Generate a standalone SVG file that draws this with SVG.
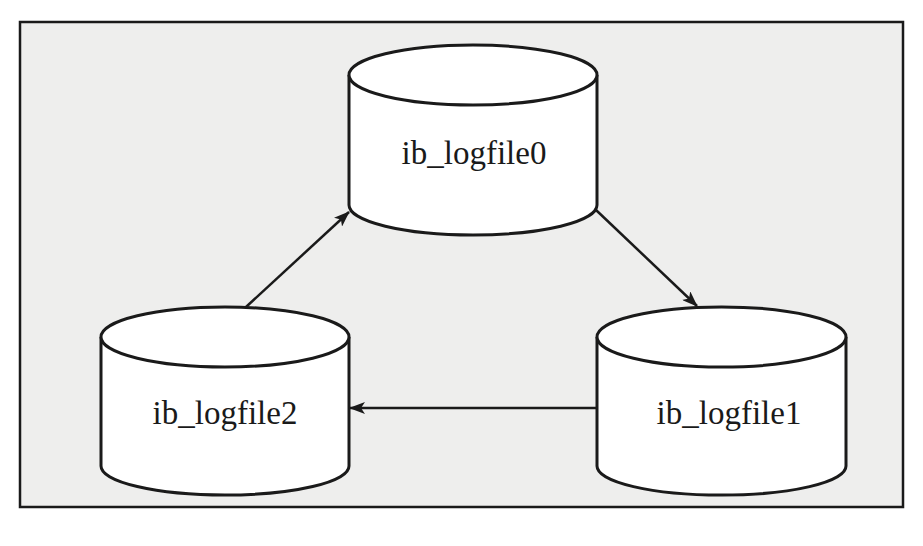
<svg xmlns="http://www.w3.org/2000/svg" width="923" height="546" viewBox="0 0 923 546">
<style>
.cyl{fill:#fff;stroke:#1a1a1a;stroke-width:3}
.lbl{font-family:"Liberation Serif","Times New Roman",serif;font-size:33px;fill:#1a1a1a;text-anchor:middle}
.edge{stroke:#1a1a1a;stroke-width:2.5;fill:none;marker-end:url(#ah)}
</style>
<defs>
<marker id="ah" viewBox="0 0 16 12" refX="15" refY="6" markerWidth="16" markerHeight="12" markerUnits="userSpaceOnUse" orient="auto">
<path d="M0,0 L16,6 L0,12 L4,6 Z" fill="#1a1a1a"/>
</marker>
</defs>
<rect x="20" y="22" width="883" height="485" fill="#eeeeed" stroke="#1a1a1a" stroke-width="2.5"/>
<g id="ib_logfile0">
<path class="cyl" d="M349,75 A124,30 0 0 1 597,75 L597,205 A124,30 0 0 1 349,205 Z"/>
<path class="cyl" d="M349,75 A124,30 0 0 0 597,75"/>
<text class="lbl" x="474" y="164">ib_logfile0</text>
</g>
<g id="ib_logfile1">
<path class="cyl" d="M597,337 A124,30 0 0 1 846,337 L846,466 A124,29 0 0 1 597,466 Z"/>
<path class="cyl" d="M597,337 A124,30 0 0 0 846,337"/>
<text class="lbl" x="729" y="424">ib_logfile1</text>
</g>
<g id="ib_logfile2">
<path class="cyl" d="M101,337 A124,30 0 0 1 349,337 L349,466 A124,29 0 0 1 101,466 Z"/>
<path class="cyl" d="M101,337 A124,30 0 0 0 349,337"/>
<text class="lbl" x="225" y="424">ib_logfile2</text>
</g>
<g id="connectors">
<line class="edge" x1="596" y1="210" x2="697" y2="306"/>
<line class="edge" x1="597" y1="408" x2="350" y2="408"/>
<line class="edge" x1="246" y1="307" x2="349" y2="212"/>
</g>
</svg>
